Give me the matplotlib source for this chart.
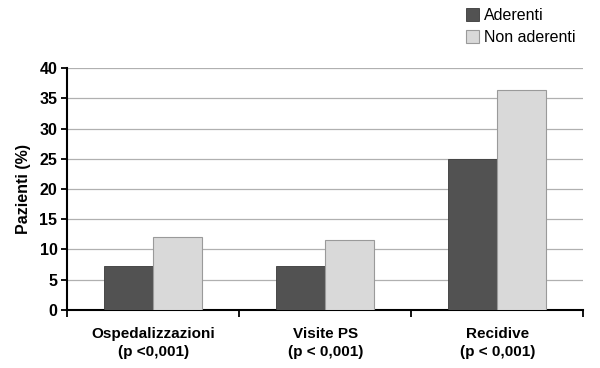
import matplotlib.pyplot as plt
import numpy as np
from matplotlib.ticker import FixedLocator

plt.rcParams['font.family'] = ['Liberation Sans', 'DejaVu Sans']

# Data
categories = ['Ospedalizzazioni\n(p <0,001)', 'Visite PS\n(p < 0,001)', 'Recidive\n(p < 0,001)']
aderenti = [7.2, 7.2, 25.0]
non_aderenti = [12.1, 11.6, 36.4]
series_names = ['Aderenti', 'Non aderenti']
yticks = [0, 5, 10, 15, 20, 25, 30, 35, 40]

fig = plt.figure(figsize=(6, 3.68), dpi=100)
ax = fig.add_axes([0.112, 0.158, 0.86, 0.657])

x = np.arange(len(categories))
w = 0.285
ax.bar(x - w/2, aderenti, w, color='#525252', edgecolor='#3a3a3a', linewidth=0.6,
       label=series_names[0], zorder=3)
ax.bar(x + w/2, non_aderenti, w, color='#d9d9d9', edgecolor='#9a9a9a', linewidth=0.8,
       label=series_names[1], zorder=3)

ax.set_xlim(-0.5, len(categories) - 0.5)
ax.set_ylim(0, 40)
ax.set_yticks(yticks)
ax.yaxis.grid(True, color='#b0b0b0', linewidth=0.9, zorder=0)
ax.set_axisbelow(True)

# category labels centred, tick marks at the boundaries
ax.set_xticks(x)
ax.set_xticklabels(categories, fontweight='bold', fontsize=11, linespacing=1.45)
ax.tick_params(axis='x', which='major', length=0, pad=12)
ax.xaxis.set_minor_locator(FixedLocator(np.arange(len(categories) + 1) - 0.5))
ax.tick_params(axis='x', which='minor', length=5, width=1.3, direction='out')

ax.tick_params(axis='y', length=4, width=1.3, direction='out', labelsize=11.5, pad=3)
for lab in ax.get_yticklabels():
    lab.set_fontweight('bold')

ax.spines['top'].set_visible(False)
ax.spines['right'].set_visible(False)
ax.spines['left'].set_linewidth(1.5)
ax.spines['bottom'].set_linewidth(1.5)

ax.set_ylabel('Pazienti (%)', fontweight='bold', fontsize=11.5, labelpad=6)

ax.legend(loc='upper left', bbox_to_anchor=(0.76, 1.275), frameon=False,
          fontsize=11.5, handlelength=0.85, handleheight=0.85, handletextpad=0.3,
          labelspacing=0.45, borderaxespad=0)

fig.savefig('out.png', dpi=100)
